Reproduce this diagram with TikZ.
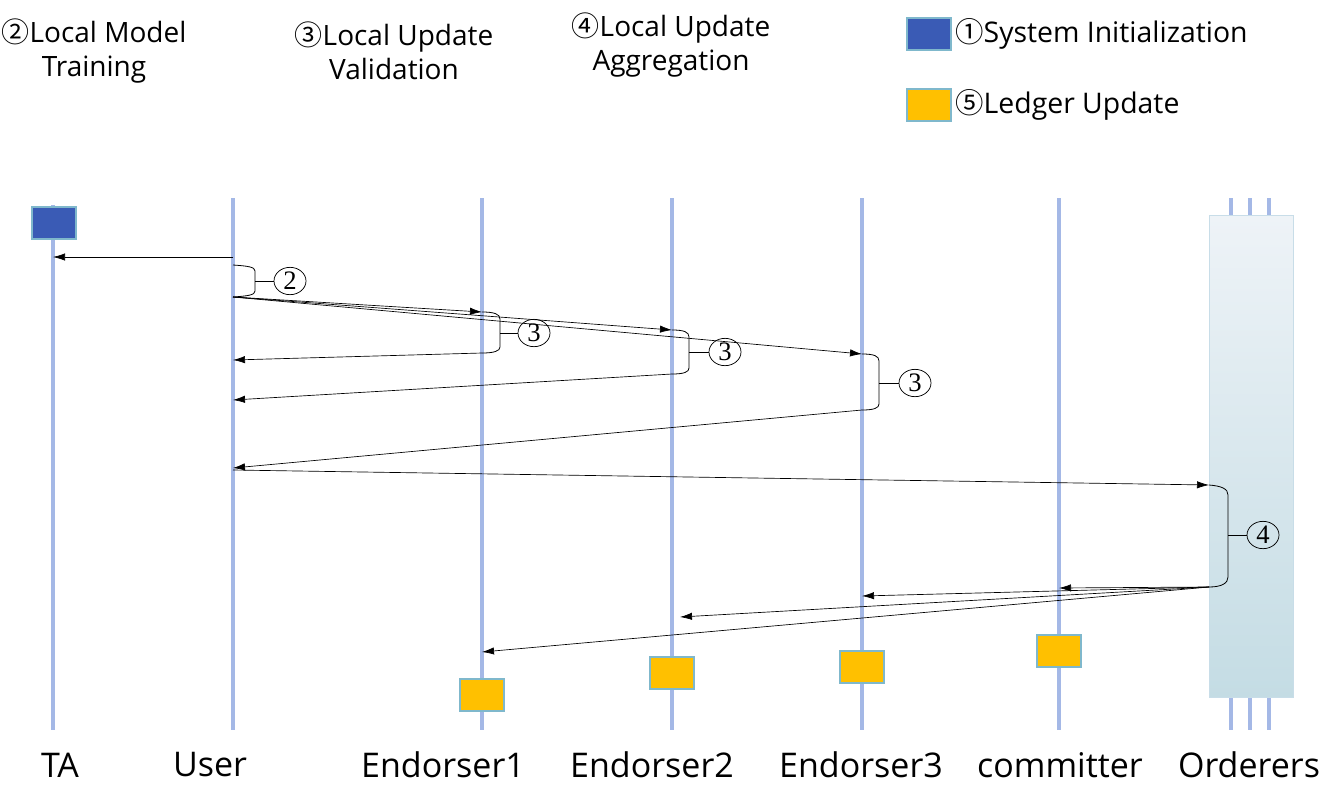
\documentclass[tikz,border=0pt]{standalone}
\usepackage{fontspec}
\setmainfont{Open Sans}
\newfontfamily\cjk{Noto Sans CJK SC}
\newfontfamily\digitfont{Liberation Serif}
\usetikzlibrary{arrows.meta,shapes.geometric}
\definecolor{life}{HTML}{A4B8E6}
\definecolor{initblue}{HTML}{3A5BB5}
\definecolor{ledger}{HTML}{FFC000}
\definecolor{boxedge}{HTML}{7FB8CC}
\definecolor{ordtop}{HTML}{EEF3F7}
\definecolor{ordbot}{HTML}{C4DCE4}
\definecolor{ordedge}{HTML}{C8DDE8}
\tikzset{
  lifeline/.style={draw=life, line width=3pt},
  msg/.style={draw=black, line width=0.5pt, -{Latex[length=9pt,width=5.5pt]}},
  bracepath/.style={draw=black, line width=0.6pt},
  tick/.style={draw=black, line width=0.5pt},
  initbox/.style={draw=boxedge, fill=initblue, minimum width=33pt, minimum height=24pt, inner sep=0pt, line width=0.8pt},
  ledgerbox/.style={draw=boxedge, fill=ledger, minimum width=33pt, minimum height=24pt, inner sep=0pt, line width=0.8pt},
  actor/.style={font=\fontsize{25.5}{30}\selectfont, inner sep=0pt},
  phase/.style={font=\fontsize{21}{25.5}\selectfont, align=center, inner sep=0pt},
  legendtxt/.style={font=\fontsize{21.3}{25.5}\selectfont, anchor=west, inner sep=0pt},
  num/.style={ellipse, draw, line width=0.55pt, inner sep=0pt, minimum width=24pt, minimum height=20.5pt, font=\digitfont\fontsize{20}{20}\selectfont}
}
\newcommand\cnum[1]{{\cjk #1}}
\begin{document}
\begin{tikzpicture}[x=0.75pt,y=-0.75pt]
\useasboundingbox (0,0) rectangle (1327,807);

% header texts
\node[phase] (p2) at (94,51) {\cnum{②}Local Model\\Training};
\node[phase] (p3) at (394,51) {\cnum{③}Local Update\\Validation};
\node[phase] (p4) at (671,45) {\cnum{④}Local Update\\Aggregation};
\node[initbox] (leg1) at (929,34) {};
\node[legendtxt] (leg1t) at (955,34) {\cnum{①}System Initialization};
\node[ledgerbox] (leg5) at (929,105) {};
\node[legendtxt] (leg5t) at (955,105) {\cnum{⑤}Ledger Update};

% lifelines
\draw[lifeline] (53,205) -- (53,730);
\draw[lifeline] (233,198) -- (233,730);
\draw[lifeline] (482,198) -- (482,730);
\draw[lifeline] (672,198) -- (672,730);
\draw[lifeline] (862,198) -- (862,730);
\draw[lifeline] (1059,198) -- (1059,730);
\draw[lifeline] (1231,198) -- (1231,730);
\draw[lifeline] (1250,198) -- (1250,730);
\draw[lifeline] (1269,198) -- (1269,730);

% orderers box
\node[draw=ordedge, line width=0.8pt, shading angle=-15, top color=ordtop, bottom color=ordbot, minimum width=63pt, minimum height=361.5pt, inner sep=0pt, anchor=north west] (ord) at (1209,215) {};

% TA init box
\node[initbox] (ta) at (54,223) {};

% ledger boxes
\node[ledgerbox] (l1) at (482,695) {};
\node[ledgerbox] (l2) at (672,673) {};
\node[ledgerbox] (l3) at (862,667) {};
\node[ledgerbox] (l4) at (1059,651) {};

% coordinates
\coordinate (u0) at (233,257);
\coordinate (t0) at (53,257);
\coordinate (u1) at (233,297);
\coordinate (e1a) at (482,312);
\coordinate (e2a) at (672,330);
\coordinate (e3a) at (862,354);
\coordinate (e1b) at (482,353);
\coordinate (e2b) at (672,374);
\coordinate (e3b) at (862,410);
\coordinate (ur1) at (233,360);
\coordinate (ur2) at (233,400);
\coordinate (ur3) at (233,468);
\coordinate (u2) at (233,470);
\coordinate (oa) at (1209,485);
\coordinate (ob) at (1209,587);
\coordinate (cm) at (1059,588);
\coordinate (e3c) at (862,596);
\coordinate (e2c) at (680,617);
\coordinate (e1c) at (482,652);

% labels
\node[num] (n2) at (290,281) {2};
\node[num] (n3a) at (534,333) {3};
\node[num] (n3b) at (725,352) {3};
\node[num] (n3c) at (915,383) {3};
\node[num] (n4) at (1263,535) {4};

% messages
\draw[msg] (u0) -- (t0);
\draw[bracepath] (233,265) .. controls (248,266) and (255,267) .. (255,271) -- (255,291) .. controls (255,295) and (248,296) .. (u1);
\draw[tick] (255,281) -- (n2);
\draw[msg] (u1) -- (e1a);
\draw[msg] (u1) -- (e2a);
\draw[msg] (u1) -- (e3a);

\draw[bracepath] (e1a) .. controls (494,312) and (500,314) .. (500,319) -- (500,347) .. controls (500,351) and (494,353) .. (e1b);
\draw[tick] (500,333) -- (n3a);
\draw[msg] (e1b) -- (ur1);

\draw[bracepath] (e2a) .. controls (684,330) and (689,332) .. (689,337) -- (689,368) .. controls (689,372) and (684,374) .. (e2b);
\draw[tick] (689,352) -- (n3b);
\draw[msg] (e2b) -- (ur2);

\draw[bracepath] (e3a) .. controls (874,354) and (879,356) .. (879,361) -- (879,404) .. controls (879,408) and (874,410) .. (e3b);
\draw[tick] (879,383) -- (n3c);
\draw[msg] (e3b) -- (ur3);

\draw[msg] (u2) -- (oa);
\draw[bracepath] (oa) .. controls (1222,486) and (1228,489) .. (1228,495) -- (1228,577) .. controls (1228,583) and (1222,587) .. (ob);
\draw[tick] (1228,535) -- (n4);

\draw[msg] (ob) -- (cm);
\draw[msg] (ob) -- (e3c);
\draw[msg] (ob) -- (e2c);
\draw[msg] (ob) -- (e1c);

% actor labels
\node[actor] (aTA) at (60,765) {TA};
\node[actor] (aU) at (210,765) {User};
\node[actor] (aE1) at (443,765) {Endorser1};
\node[actor] (aE2) at (652,765) {Endorser2};
\node[actor] (aE3) at (861,765) {Endorser3};
\node[actor] (aC) at (1060,765) {committer};
\node[actor] (aO) at (1249,765) {Orderers};
\end{tikzpicture}
\end{document}
